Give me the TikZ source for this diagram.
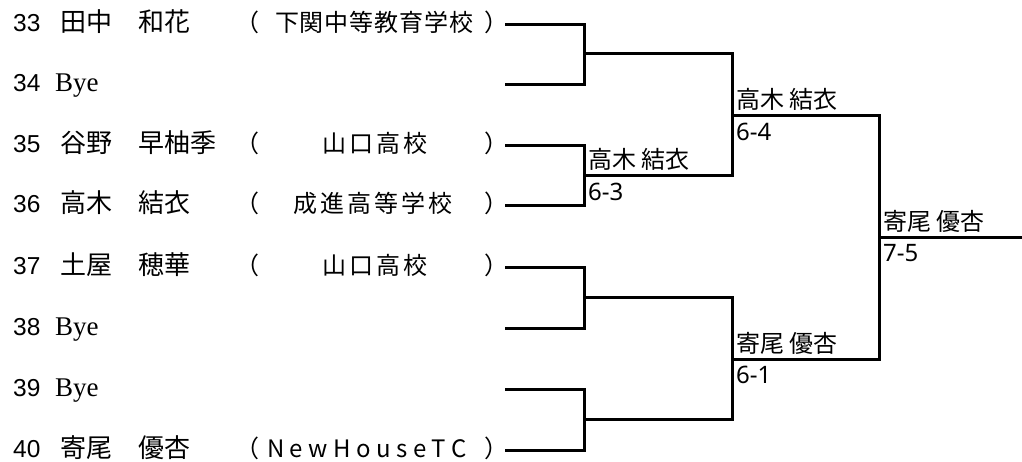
\documentclass[tikz,border=0pt]{standalone}
\usepackage{fontspec}
\newfontfamily\jpf{Noto Sans CJK JP}
\newfontfamily\numf{Liberation Sans}
\newfontfamily\byef{Liberation Serif}
\newfontfamily\scoref{Noto Sans}
\makeatletter
\newcommand\spreadtxt[2]{\hbox to #1{\@tfor\spreadtok:=#2\do{\spreadtok\hfil}\unskip}}
\makeatother
\tikzset{
  br/.style={line width=3pt, line join=miter, line cap=butt},
  numtxt/.style={anchor=base west, inner sep=0pt, font=\numf\fontsize{24.5}{28}\selectfont},
  nametxt/.style={anchor=base west, inner sep=0pt, font=\jpf\fontsize{26}{30}\selectfont},
  byetxt/.style={anchor=base west, inner sep=0pt, font=\byef\fontsize{27}{30}\selectfont},
  lpar/.style={anchor=base east, inner sep=0pt, font=\jpf\fontsize{24}{28}\selectfont},
  rpar/.style={anchor=base west, inner sep=0pt, font=\jpf\fontsize{24}{28}\selectfont},
  school/.style={anchor=base, inner sep=0pt, font=\jpf\fontsize{24}{28}\selectfont},
  win/.style={anchor=base west, inner sep=0pt, font=\jpf\fontsize{24}{28}\selectfont},
  score/.style={anchor=base west, inner sep=0pt, font=\scoref\fontsize{24}{28}\selectfont},
}
\begin{document}
\begin{tikzpicture}[x=1pt,y=-1pt]
\useasboundingbox (0,0) rectangle (1022,462);
% entrants
\node[numtxt] (n33) at (13,31.3) {33};
\node[nametxt] (p33) at (60,31.3) {田中　和花};
\node[lpar] (a33) at (259.5,31.3) {（};
\node[school] (s33) at (374,31.3) {\spreadtxt{198pt}{下関中等教育学校}};
\node[rpar] (b33) at (484.6,31.3) {）};

\node[numtxt] (n34) at (13,92) {34};
\node[byetxt] (p34) at (55,92) {Bye};

\node[numtxt] (n35) at (13,153) {35};
\node[nametxt] (p35) at (60,153) {谷野　早柚季};
\node[lpar] (a35) at (259.5,153) {（};
\node[school] (s35) at (374.5,153) {\spreadtxt{105pt}{山口高校}};
\node[rpar] (b35) at (484.6,153) {）};

\node[numtxt] (n36) at (13,213) {36};
\node[nametxt] (p36) at (60,213) {高木　結衣};
\node[lpar] (a36) at (259.5,213) {（};
\node[school] (s36) at (373,213) {\spreadtxt{160pt}{成進高等学校}};
\node[rpar] (b36) at (484.6,213) {）};

\node[numtxt] (n37) at (13,274.7) {37};
\node[nametxt] (p37) at (60,274.7) {土屋　穂華};
\node[lpar] (a37) at (259.5,274.7) {（};
\node[school] (s37) at (374.5,274.7) {\spreadtxt{105pt}{山口高校}};
\node[rpar] (b37) at (484.6,274.7) {）};

\node[numtxt] (n38) at (13,335.3) {38};
\node[byetxt] (p38) at (55,335.3) {Bye};

\node[numtxt] (n39) at (13,396.3) {39};
\node[byetxt] (p39) at (55,396.3) {Bye};

\node[numtxt] (n40) at (13,457) {40};
\node[nametxt] (p40) at (60,457) {寄尾　優杏};
\node[lpar] (a40) at (259.5,457) {（};
\node[school] (s40) at (367,457) {\spreadtxt{200pt}{NewHouseTC}};
\node[rpar] (b40) at (484.6,457) {）};

% bracket points
\coordinate (e33) at (505,24.3);
\coordinate (e34) at (505,85);
\coordinate (e35) at (505,146);
\coordinate (e36) at (505,206);
\coordinate (e37) at (505,267.7);
\coordinate (e38) at (505,328.3);
\coordinate (e39) at (505,389.3);
\coordinate (e40) at (505,450);
\coordinate (m1) at (584.5,54);
\coordinate (m2) at (584.5,176);
\coordinate (m3) at (584.5,297.7);
\coordinate (m4) at (584.5,419);
\coordinate (r1) at (732.3,116);
\coordinate (r2) at (732.3,359.3);
\coordinate (f) at (879.3,237.3);
\coordinate (champ) at (1022,237.3);

\draw[br] (e33) -| (m1) |- (e34);
\draw[br] (e35) -| (m2) |- (e36);
\draw[br] (e37) -| (m3) |- (e38);
\draw[br] (e39) -| (m4) |- (e40);
\draw[br] (m1) -| (r1) |- (m2);
\draw[br] (m3) -| (r2) |- (m4);
\draw[br] (r1) -| (f) |- (r2);
\draw[br] (f) -- (champ);

% results
\node[win] (w1) at (588,169) {高木 結衣};
\node[score] (c1) at (588,200.5) {6-3};
\node[win] (w2) at (736,109) {高木 結衣};
\node[score] (c2) at (736,140.5) {6-4};
\node[win] (w3) at (736,352.3) {寄尾 優杏};
\node[score] (c3) at (736,383.8) {6-1};
\node[win] (w4) at (883,230.3) {寄尾 優杏};
\node[score] (c4) at (883,261.8) {7-5};
\end{tikzpicture}
\end{document}
